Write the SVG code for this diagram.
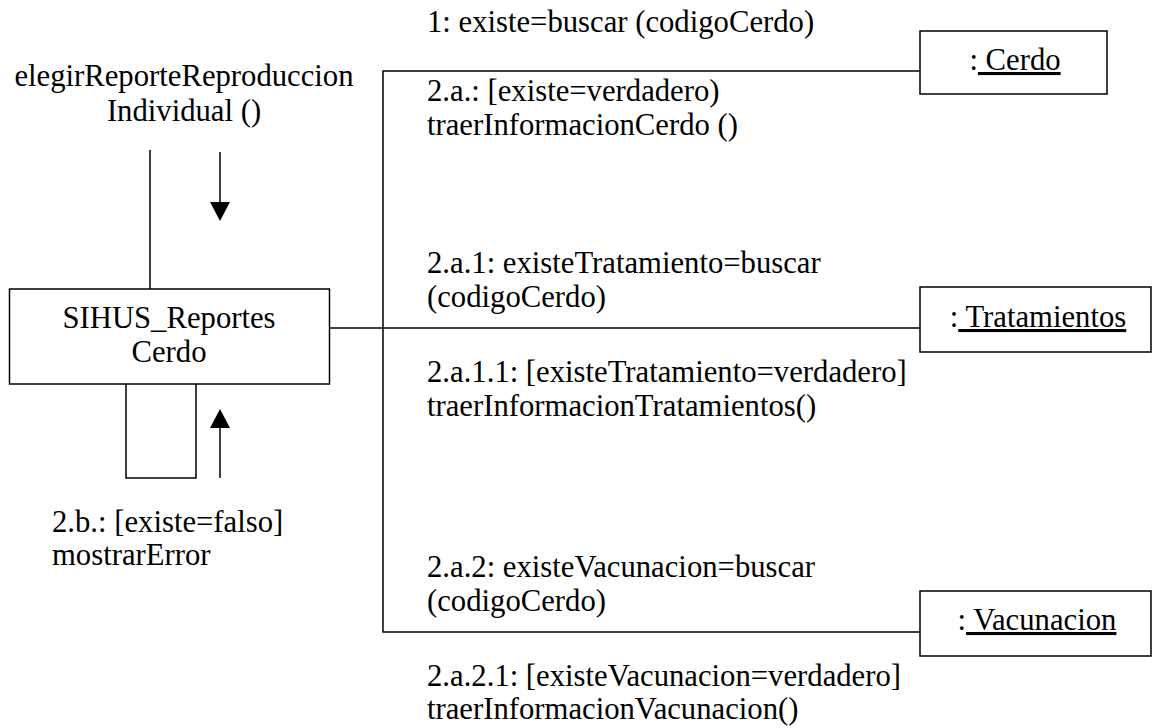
<svg xmlns="http://www.w3.org/2000/svg" width="1153" height="728" viewBox="0 0 1153 728" font-family="'Liberation Serif', 'Times New Roman', 'DejaVu Serif', serif">
<style>
text{font-family:'Liberation Serif','Times New Roman','DejaVu Serif',serif;font-size:30.7px;fill:#000}
.box{fill:#fff;stroke:#000;stroke-width:1.5}
.ln{fill:none;stroke:#000;stroke-width:1.5}
.c{text-anchor:middle}
.u{text-decoration:underline}
</style>
<rect width="1153" height="728" fill="#fff"/>
<g id="connectors">
<path class="ln" d="M150 150V289"/>
<path class="ln" d="M329 328H920"/>
<path class="ln" d="M920 71H383V632H920"/>
<path class="ln" d="M126 384V478H196V384"/>
<path class="ln" d="M220 152V203"/>
<polygon points="210,202 230,202 220,221" fill="#000"/>
<path class="ln" d="M220 427V478"/>
<polygon points="220,409 210,428 230,428" fill="#000"/>
</g>
<g id="labels">
<text x="184" y="86" class="c">elegirReporteReproduccion</text>
<text x="184" y="121" class="c">Individual ()</text>
<text x="427" y="32">1: existe=buscar (codigoCerdo)</text>
<text x="427" y="101">2.a.: [existe=verdadero)</text>
<text x="427" y="135">traerInformacionCerdo ()</text>
<text x="427" y="273">2.a.1: existeTratamiento=buscar</text>
<text x="427" y="307">(codigoCerdo)</text>
<text x="427" y="382">2.a.1.1: [existeTratamiento=verdadero]</text>
<text x="427" y="416">traerInformacionTratamientos()</text>
<text x="52" y="532">2.b.: [existe=falso]</text>
<text x="52" y="565">mostrarError</text>
<text x="427" y="577">2.a.2: existeVacunacion=buscar</text>
<text x="427" y="611">(codigoCerdo)</text>
<text x="427" y="686">2.a.2.1: [existeVacunacion=verdadero]</text>
<text x="427" y="719">traerInformacionVacunacion()</text>
</g>
<g id="sihus">
<rect class="box" x="9.5" y="289" width="320" height="95"/>
<text x="169" y="328" class="c">SIHUS_Reportes</text>
<text x="169" y="362" class="c">Cerdo</text>
</g>
<g id="cerdo">
<rect class="box" x="920" y="31" width="187" height="63"/>
<text x="1015" y="70" class="c">:<tspan class="u"> Cerdo</tspan></text>
</g>
<g id="tratamientos">
<rect class="box" x="920" y="287" width="231" height="65"/>
<text x="1038" y="327" class="c">:<tspan class="u"> Tratamientos</tspan></text>
</g>
<g id="vacunacion">
<rect class="box" x="920" y="591" width="231" height="65"/>
<text x="1037" y="630" class="c">:<tspan class="u"> Vacunacion</tspan></text>
</g>
</svg>
